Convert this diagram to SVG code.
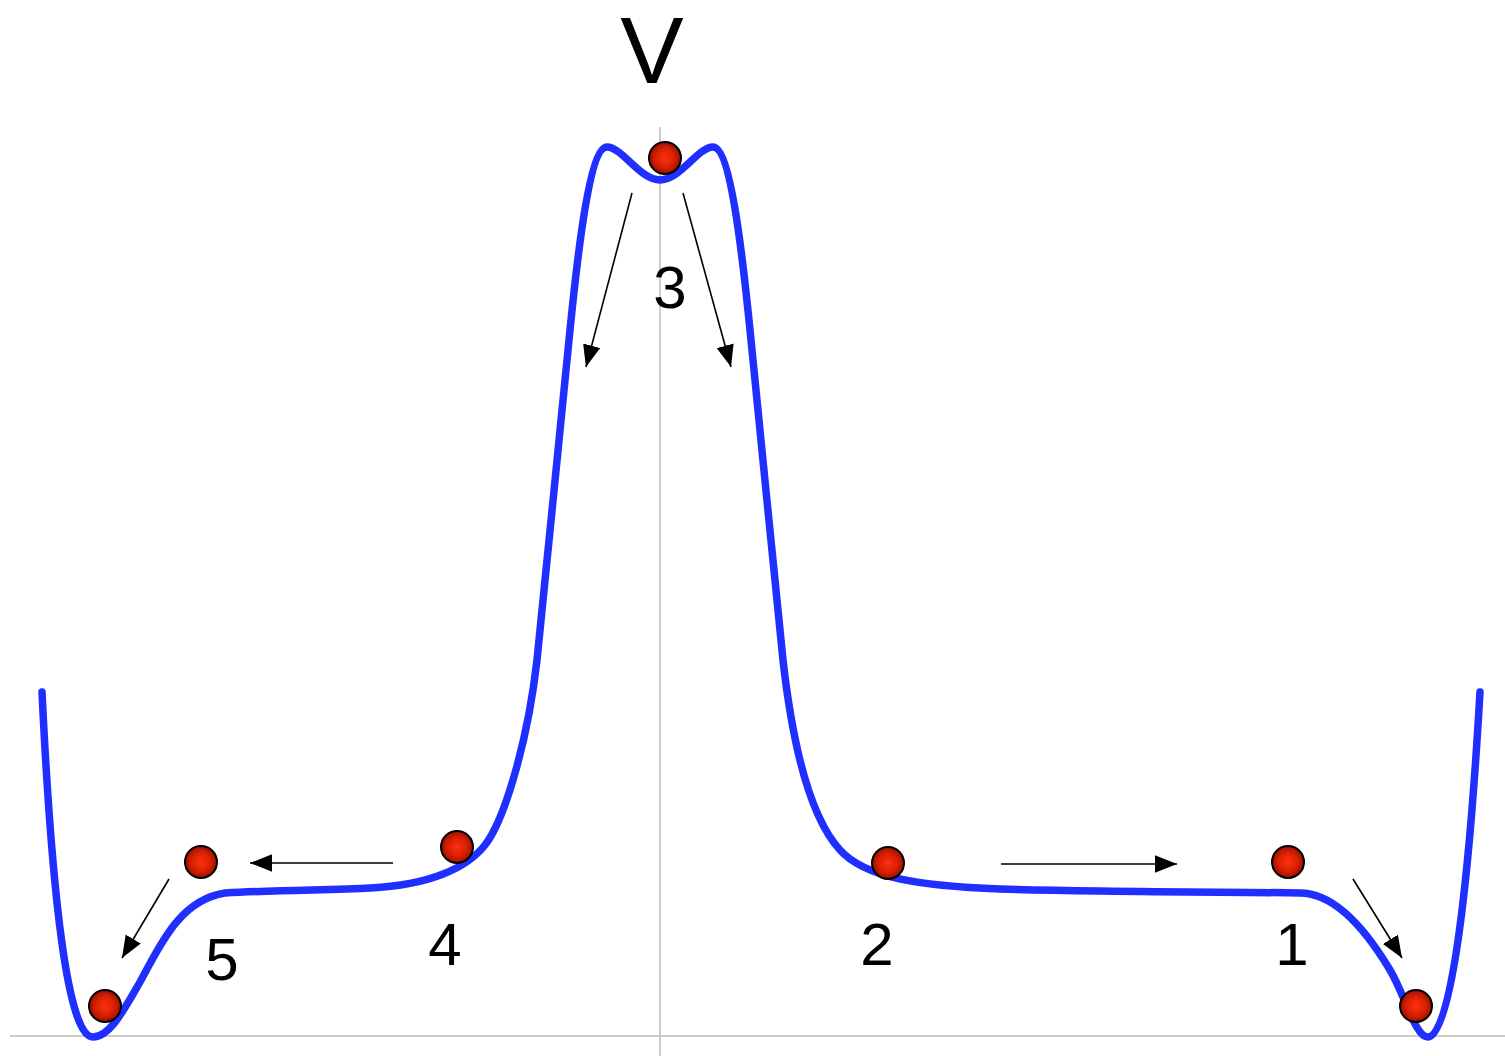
<svg xmlns="http://www.w3.org/2000/svg" width="1505" height="1056" viewBox="0 0 1505 1056">
<style>
.axis{stroke:#bdbdbd;stroke-width:1.5;fill:none}
.curve{stroke:#1f2fff;stroke-width:7.5;fill:none;stroke-linecap:round;stroke-linejoin:round}
.arr{stroke:#000;stroke-width:1.6;fill:none;marker-end:url(#ah)}
.ball{fill:url(#bg);stroke:#000;stroke-width:2}
.lbl{font-family:"Liberation Sans",Arial,sans-serif;fill:#000;text-anchor:middle}
</style>
<defs>
<radialGradient id="bg" cx="50%" cy="50%" r="50%">
<stop offset="0" stop-color="#ff3010"/>
<stop offset="0.6" stop-color="#d82000"/>
<stop offset="1" stop-color="#9a1000"/>
</radialGradient>
<marker id="ah" viewBox="0 0 20 16" refX="20" refY="8" markerWidth="22" markerHeight="18" orient="auto" markerUnits="userSpaceOnUse">
<path d="M0,0 L20,8 L0,16 Z" fill="#000"/>
</marker>
</defs>
<rect width="1505" height="1056" fill="#fff"/>
<g id="axes">
<line class="axis" x1="10" y1="1036" x2="1505" y2="1036"/>
<line class="axis" x1="660" y1="127" x2="660" y2="1056"/>
</g>
<g id="potential">
<path class="curve" d="M42,692 C52,900 68,1037 93,1037 C110,1037 125,1008 140,982 C158,950 178,900 225,893 C280,890 330,890 370,888 C430,885 467,868 485,845 C505,819 528,740 537,660 C548,560 560,420 570,330 C578,250 590,147 607,147 C622,147 640,180 660,180 C680,180 698,147 713,147 C730,147 742,250 750,330 C760,420 772,560 783,660 C792,740 808,815 840,850 C865,878 920,886 1000,889 C1100,892 1250,892 1300,893 C1330,893 1360,920 1390,970 C1405,995 1415,1037 1428,1037 C1450,1037 1468,900 1480,692"/>
</g>
<g id="connectors">
<line class="arr" x1="632" y1="193" x2="586" y2="367"/>
<line class="arr" x1="683" y1="193" x2="731" y2="367"/>
<line class="arr" x1="393" y1="863" x2="250" y2="863"/>
<line class="arr" x1="1001" y1="864" x2="1177" y2="864"/>
<line class="arr" x1="169" y1="879" x2="122" y2="958"/>
<line class="arr" x1="1353" y1="879" x2="1402" y2="958"/>
</g>
<g id="balls">
<circle id="ball3" class="ball" cx="665" cy="158" r="16"/>
<circle id="ball4" class="ball" cx="457" cy="847" r="16"/>
<circle id="ball5a" class="ball" cx="201" cy="862" r="16"/>
<circle id="ball5b" class="ball" cx="105" cy="1006" r="16"/>
<circle id="ball2" class="ball" cx="888" cy="863" r="16"/>
<circle id="ball1a" class="ball" cx="1288" cy="862" r="16"/>
<circle id="ball1b" class="ball" cx="1416" cy="1006" r="16"/>
</g>
<g id="labels">
<text class="lbl" x="652" y="83" font-size="95">V</text>
<text class="lbl" x="670" y="308" font-size="60">3</text>
<text class="lbl" x="445" y="965" font-size="60">4</text>
<text class="lbl" x="877" y="965" font-size="60">2</text>
<text class="lbl" x="222" y="980" font-size="60">5</text>
<text class="lbl" x="1292" y="965" font-size="60">1</text>
</g>
</svg>
